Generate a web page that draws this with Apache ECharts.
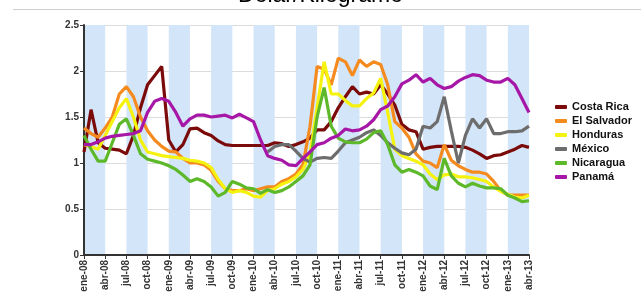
<!DOCTYPE html>
<html lang="es">

<head>
    <meta charset="UTF-8">
    <title>Dolar/Kilogramo</title>
    <script src="https://cdn.jsdelivr.net/npm/echarts@6/dist/echarts.min.js"></script>
    <style>
        * {
            margin: 0;
            padding: 0;
        }

        #chart {
            width: 641px;
            height: 295px;
            background: #fff;
        }
    </style>
</head>

<body>
    <div id="chart"></div>

    <script>
        // meses ene-08 .. abr-13
        var monthNames = ['ene', 'feb', 'mar', 'abr', 'may', 'jun', 'jul', 'ago', 'sep', 'oct', 'nov', 'dic'];
        var years = ['08', '09', '10', '11', '12', '13'];
        var yTicks = [0, 0.5, 1, 1.5, 2, 2.5];

        var costaRica = [1.12, 1.58, 1.22, 1.16, 1.15, 1.14, 1.1, 1.3, 1.6, 1.85, 1.95, 2.05,
            1.25, 1.12, 1.2, 1.37, 1.38, 1.33, 1.3, 1.24, 1.2, 1.19, 1.19, 1.19,
            1.19, 1.19, 1.19, 1.22, 1.21, 1.18, 1.2, 1.23, 1.27, 1.36, 1.36, 1.45,
            1.6, 1.72, 1.83, 1.75, 1.77, 1.75, 1.85, 1.75, 1.63, 1.42, 1.36, 1.34,
            1.15, 1.17, 1.18, 1.18, 1.18, 1.18, 1.17, 1.14, 1.1, 1.05, 1.08, 1.09,
            1.12, 1.15, 1.19, 1.17];
        var elSalvador = [1.38, 1.32, 1.28, 1.38, 1.5, 1.75, 1.83, 1.72, 1.5, 1.35, 1.25, 1.18,
            1.13, 1.12, 1.05, 1.0, 1.0, 0.98, 0.92, 0.8, 0.72, 0.7, 0.7, 0.72,
            0.7, 0.72, 0.74, 0.74, 0.8, 0.83, 0.88, 0.98, 1.4, 2.05, 2.02, 1.85,
            2.14, 2.1, 1.95, 2.12, 2.05, 2.1, 2.07, 1.85, 1.45, 1.38, 1.28, 1.1,
            1.02, 1.0, 0.95, 1.2, 1.03, 0.97, 0.93, 0.9, 0.9, 0.88, 0.8, 0.7,
            0.65, 0.65, 0.65, 0.65];
        var honduras = [1.2, 1.18, 1.15, 1.3, 1.45, 1.6, 1.7, 1.5, 1.25, 1.12, 1.1, 1.08,
            1.07, 1.06, 1.05, 1.03, 1.02, 1.0, 0.95, 0.82, 0.72, 0.68, 0.7, 0.68,
            0.64, 0.63, 0.7, 0.72, 0.77, 0.8, 0.85, 0.93, 1.1, 1.6, 2.1, 1.75,
            1.75, 1.68, 1.62, 1.62, 1.7, 1.76, 1.92, 1.55, 1.15, 1.08, 1.05, 1.02,
            0.98, 0.88, 0.82, 0.87, 0.88, 0.85, 0.85, 0.84, 0.82, 0.8, 0.74, 0.69,
            0.66, 0.63, 0.62, 0.65];
        var mexico = [null, null, null, null, null, null, null, null, null, null, null, null,
            null, null, null, null, null, null, null, null, null, null, null, null,
            null, null, 1.12, 1.18, 1.2, 1.2, 1.13, 1.05, 1.01, 1.05, 1.06, 1.05,
            1.13, 1.22, 1.25, 1.28, 1.33, 1.36, 1.3, 1.22, 1.16, 1.11, 1.09, 1.15,
            1.4, 1.38, 1.45, 1.72, 1.35, 1.0, 1.3, 1.48, 1.38, 1.48, 1.32, 1.32,
            1.34, 1.34, 1.35, 1.4];
        var nicaragua = [1.3, 1.15, 1.02, 1.02, 1.22, 1.42, 1.48, 1.3, 1.1, 1.04, 1.02, 1.0,
            0.97, 0.93, 0.87, 0.8, 0.83, 0.8, 0.74, 0.64, 0.68, 0.8, 0.77, 0.73,
            0.72, 0.67, 0.71, 0.68, 0.7, 0.74, 0.8, 0.86, 0.98, 1.5, 1.82, 1.4,
            1.27, 1.23, 1.22, 1.22, 1.26, 1.33, 1.35, 1.2, 0.98, 0.9, 0.93, 0.9,
            0.86, 0.75, 0.71, 1.05, 0.86, 0.78, 0.74, 0.78, 0.75, 0.73, 0.73, 0.72,
            0.65, 0.62, 0.58, 0.59];
        var panama = [1.2, 1.2, 1.23, 1.27, 1.29, 1.3, 1.31, 1.32, 1.35, 1.55, 1.67, 1.7,
            1.67, 1.55, 1.4, 1.48, 1.52, 1.52, 1.5, 1.51, 1.52, 1.49, 1.53, 1.49,
            1.45, 1.25, 1.08, 1.05, 1.03, 0.98, 0.97, 1.05, 1.12, 1.2, 1.22, 1.27,
            1.3, 1.37, 1.35, 1.36, 1.4, 1.47, 1.58, 1.62, 1.72, 1.86, 1.9, 1.96,
            1.88, 1.92, 1.85, 1.81, 1.83, 1.89, 1.93, 1.96, 1.95, 1.9, 1.88, 1.88,
            1.92, 1.85, 1.7, 1.55];

        var seriesNames = ['Costa Rica', 'El Salvador', 'Honduras', 'México', 'Nicaragua', 'Panamá'];
        var seriesData = [costaRica, elSalvador, honduras, mexico, nicaragua, panama];
        var colors = ['#7b0a0a', '#f58a1f', '#f5f20f', '#6d6d6d', '#5db82a', '#a717a7'];

        var categories = [];
        years.forEach(function (y) {
            monthNames.forEach(function (m) {
                categories.push(m + '-' + y);
            });
        });
        categories = categories.slice(0, costaRica.length);

        var chart = echarts.init(document.getElementById('chart'));

        var series = seriesData.map(function (data, i) {
            return {
                name: seriesNames[i],
                type: 'line',
                data: data,
                showSymbol: false,
                symbol: 'none',
                lineStyle: { width: 3.2, color: colors[i] },
                itemStyle: { color: colors[i] }
            };
        });

        var option = {
            animation: false,
            color: colors,
            textStyle: { fontFamily: 'Liberation Sans' },
            title: {
                text: 'Dolar/Kilogramo',
                left: 'center',
                top: -21,
                textStyle: { fontSize: 23, fontWeight: 'normal', color: '#000', fontFamily: 'Liberation Sans' }
            },
            graphic: [{
                type: 'line',
                shape: { x1: 13, y1: 9.5, x2: 641, y2: 9.5 },
                style: { stroke: '#cfcfcf', lineWidth: 1 }
            }],
            legend: {
                orient: 'vertical',
                left: 550,
                top: 95,
                itemWidth: 12,
                itemHeight: 4,
                itemGap: 0,
                icon: 'roundRect',
                data: seriesNames,
                textStyle: { fontSize: 11, fontWeight: 'bold', color: '#111', lineHeight: 14 }
            },
            grid: {
                left: 84,
                right: 112,
                top: 25,
                bottom: 40,
                containLabel: false,
                outerBoundsMode: 'none'
            },
            xAxis: {
                type: 'category',
                data: categories,
                boundaryGap: false,
                axisLine: { lineStyle: { color: '#333', width: 2 } },
                axisTick: { interval: 2, length: 4, lineStyle: { color: '#333' } },
                axisLabel: {
                    interval: 2,
                    rotate: 90,
                    fontSize: 10,
                    fontWeight: 'bold',
                    color: '#333',
                    margin: 5
                },
                splitLine: { show: false },
                splitArea: {
                    show: true,
                    interval: 2,
                    areaStyle: { color: ['#d3e5f8', 'rgba(255,255,255,0)'] }
                }
            },
            yAxis: {
                type: 'value',
                min: yTicks[0],
                max: yTicks[yTicks.length - 1],
                interval: 0.5,
                axisLine: { show: true, lineStyle: { color: '#333', width: 2 } },
                axisTick: { show: true, length: 4, lineStyle: { color: '#333' } },
                axisLabel: { fontSize: 10, fontWeight: 'bold', color: '#333', margin: 5 },
                splitLine: { lineStyle: { color: '#dcdcdc' } }
            },
            series: series
        };

        chart.setOption(option);
    </script>
</body>

</html>
